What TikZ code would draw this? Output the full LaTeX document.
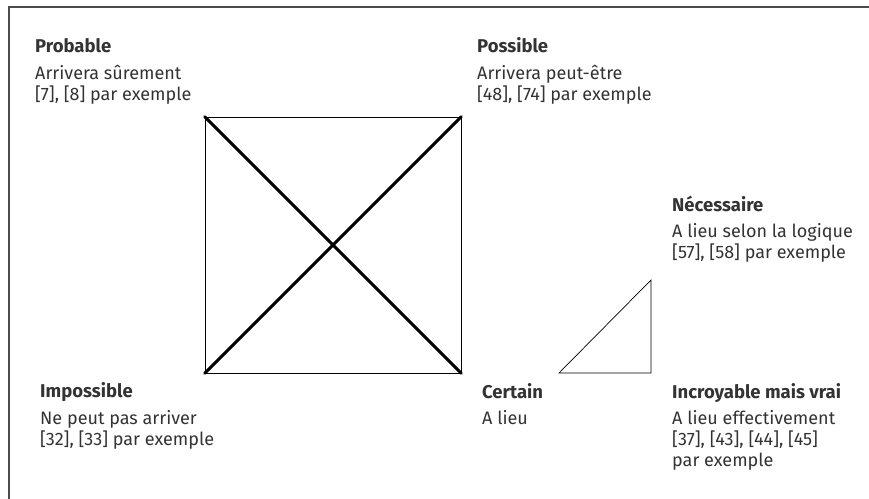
\documentclass[tikz,border=0pt]{standalone}
\usepackage{fontspec}
\setmainfont{Fira Sans}
\usetikzlibrary{positioning}
\definecolor{ink}{HTML}{333333}
\newcommand{\lignes}[1]{\begin{tabular}[t]{@{}l@{}}#1\end{tabular}}
\tikzset{
  head/.style={anchor=base west, inner sep=0pt, text=ink, font=\fontsize{18.5}{21}\selectfont\bfseries},
  body/.style={anchor=base west, inner sep=0pt, text=ink, font=\fontsize{18}{21}\selectfont},
}
\begin{document}
\begin{tikzpicture}[x=1pt,y=-1pt]
\useasboundingbox (0,0) rectangle (869,498);
\clip (0,0) rectangle (869,498);
% frame
\draw[line width=1.6pt, black!70] (9,520) -- (9,7) -- (890,7);
% square with diagonals
\node[draw, line width=0.8pt, minimum size=256pt, inner sep=0pt] (sq) at (333,245) {};
\draw[line width=3pt, line cap=round] (sq.north west) -- (sq.south east);
\draw[line width=3pt, line cap=round] (sq.south west) -- (sq.north east);
% triangle
\draw[line width=0.7pt] (559,373) -- (651,280) -- (651,373) -- cycle;
% labels
\node[head] (prob) at (35,52) {Probable};
\node[body] (probtxt) at (35,79) {\lignes{Arrivera sûrement\\{}[7], [8] par exemple}};
\node[head] (poss) at (477,52) {Possible};
\node[body] (posstxt) at (477,79) {\lignes{Arrivera peut-être\\{}[48], [74] par exemple}};
\node[head] (nec) at (672,211) {Nécessaire};
\node[body] (nectxt) at (672,237) {\lignes{A lieu selon la logique\\{}[57], [58] par exemple}};
\node[head] (imp) at (40,397) {Impossible};
\node[body] (imptxt) at (40,424) {\lignes{Ne peut pas arriver\\{}[32], [33] par exemple}};
\node[head] (cert) at (482,398) {Certain};
\node[body] (certtxt) at (482,424) {A lieu};
\node[head] (incr) at (672,398) {Incroyable mais vrai};
\node[body] (incrtxt) at (672,424) {\lignes{A lieu effectivement\\{}[37], [43], [44], [45]\\par exemple}};
\end{tikzpicture}
\end{document}
